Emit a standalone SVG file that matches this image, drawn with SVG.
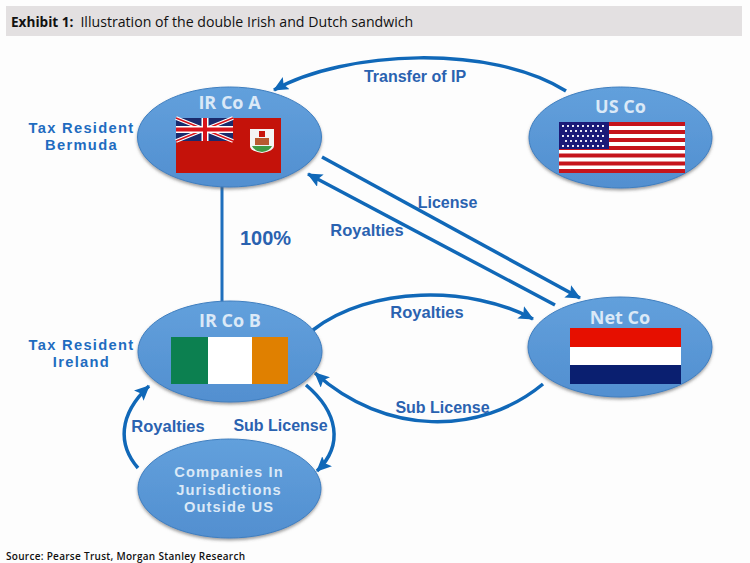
<svg xmlns="http://www.w3.org/2000/svg" width="750" height="563" viewBox="0 0 750 563">
<style>
.n{fill:url(#g);stroke:#3f7fc0;stroke-width:1}
.t{font-family:"Open Sans","Liberation Sans",sans-serif;font-weight:700;font-size:18px;fill:#dbe9f7;text-anchor:middle}
.t2{font-family:"Liberation Sans",sans-serif;font-size:14.700px;letter-spacing:1.100px}
.l{font-family:"Liberation Sans",sans-serif;font-weight:700;font-size:16px;fill:#2a62b0;text-anchor:middle}
.l2{font-size:14.700px;letter-spacing:1.300px;fill:#1f6cc0}
.c{fill:none;stroke:#1068b8;stroke-width:3.500}
.c2{fill:none;stroke:#1f6fbd;stroke-width:3}
</style>
<defs>
<linearGradient id="g" x1="0" y1="0" x2="0" y2="1"><stop offset="0" stop-color="#62a0dc"/><stop offset="1" stop-color="#528fd0"/></linearGradient>
<marker id="a" markerUnits="userSpaceOnUse" markerWidth="16" markerHeight="14" refX="14" refY="7" orient="auto"><path d="M0 0L15 7L0 14L3 7Z" fill="#1068b8"/></marker>
<filter id="s" x="-10%" y="-10%" width="120%" height="125%"><feDropShadow dx="0" dy="2" stdDeviation="1.500" flood-color="#555" flood-opacity=".55"/></filter>
</defs>
<rect width="750" height="563" fill="#fdfdfd"/>
<rect x="6" y="6" width="736" height="30" fill="#e3e0e1"/>
<text x="11" y="27" font-family="Open Sans,Liberation Sans,sans-serif" font-size="14.150" fill="#111"><tspan font-weight="700" font-size="13.600">Exhibit 1:</tspan><tspan dx="7">Illustration of the double Irish and Dutch sandwich</tspan></text>
<g id="connectors">
<path class="c" d="M566 91C492 44 345 50 274 90" marker-end="url(#a)"/>
<path class="c2" d="M222 186V302"/>
<path class="c" d="M322 157L580 298" marker-end="url(#a)"/>
<path class="c" d="M555 305L308 174" marker-end="url(#a)"/>
<path class="c" d="M313 330C370 286 470 285 533 319" marker-end="url(#a)"/>
<path class="c" d="M543 384C480 436 385 436 315 373" marker-end="url(#a)"/>
<path class="c" d="M138 468C118 445 118 415 149 386" marker-end="url(#a)"/>
<path class="c" d="M306 385C338 412 344 445 317 471" marker-end="url(#a)"/>
</g>
<g id="ir-co-a"><ellipse class="n" cx="229.500" cy="137" rx="92" ry="50" filter="url(#s)"/><text class="t" x="229.500" y="109">IR Co A</text>
<rect x="176" y="118" width="105" height="55" fill="#c4120a"/>
<rect x="176" y="118" width="57" height="23" fill="#1a2a6c"/>
<path d="M176 118L233 141M233 118L176 141" stroke="#fff" stroke-width="4"/><path d="M176 118L233 141M233 118L176 141" stroke="#d8121a" stroke-width="1.500"/>
<path d="M205 118V141M176 129.500H233" stroke="#fff" stroke-width="7"/><path d="M205 118V141M176 129.500H233" stroke="#d8121a" stroke-width="4"/>
<path d="M250 129H274V146Q274 151 262 153Q250 151 250 146Z" fill="#f4f4f4"/><path d="M252 146H272Q270 151 262 152Q254 151 252 146Z" fill="#3f9a44"/><rect x="255" y="138" width="14" height="7" fill="#b85a30"/><rect x="259" y="131" width="6" height="6" fill="#c8140c"/>
</g>
<g id="us-co"><ellipse class="n" cx="620.500" cy="137.500" rx="91.500" ry="50.500" filter="url(#s)"/><text class="t" x="620.500" y="113">US Co</text>
<rect x="559" y="122" width="126" height="51" fill="#fff"/>
<path d="M559 124H685M559 132H685M559 140H685M559 148H685M559 155.500H685M559 163.500H685M559 171H685" stroke="#c5141c" stroke-width="3.900"/>
<rect x="559" y="122" width="50" height="27" fill="#1a1a78"/>
<path d="M562 126H607M565 131H605M562 136H607M565 141H605M562 146H607" stroke="#e8e8f4" stroke-width="2" stroke-dasharray="2 3"/>
</g>
<g id="ir-co-b"><ellipse class="n" cx="230" cy="351.500" rx="92" ry="50.500" filter="url(#s)"/><text class="t" x="230" y="327">IR Co B</text>
<rect x="171" y="337" width="38" height="47" fill="#0c8050"/><rect x="208" y="337" width="44" height="47" fill="#fff"/><rect x="252" y="337" width="36" height="47" fill="#e08000"/>
</g>
<g id="net-co"><ellipse class="n" cx="620" cy="347" rx="92" ry="50" filter="url(#s)"/><text class="t" x="620" y="324">Net Co</text>
<rect x="570" y="328" width="111" height="19" fill="#e60f00"/><rect x="570" y="347" width="111" height="18" fill="#fff"/><rect x="570" y="365" width="111" height="19" fill="#0a1f70"/>
</g>
<g id="companies"><ellipse class="n" cx="229.500" cy="488.500" rx="91.500" ry="49.500" filter="url(#s)"/><text class="t t2"><tspan x="229" y="477">Companies In</tspan><tspan x="229" y="495">Jurisdictions</tspan><tspan x="229" y="512">Outside US</tspan></text></g>
<g id="labels">
<text class="l" x="415" y="82">Transfer of IP</text>
<text class="l" x="447.500" y="208">License</text>
<text class="l" x="367" y="236" style="font-size:16.500px">Royalties</text>
<text class="l" x="265.500" y="245" style="font-size:20px">100%</text>
<text class="l" x="427" y="318" style="font-size:16.500px">Royalties</text>
<text class="l" x="442.500" y="413">Sub License</text>
<text class="l" x="168" y="432" style="font-size:16.500px">Royalties</text>
<text class="l" x="280.500" y="431">Sub License</text>
<text class="l l2"><tspan x="81.500" y="133">Tax Resident</tspan><tspan x="81.500" y="150">Bermuda</tspan></text>
<text class="l l2"><tspan x="81.500" y="350">Tax Resident</tspan><tspan x="81.500" y="367">Ireland</tspan></text>
</g>
<text x="6" y="560" font-family="Open Sans,Liberation Sans,sans-serif" font-size="10" font-weight="600" letter-spacing=".29" fill="#111">Source: Pearse Trust, Morgan Stanley Research</text>
</svg>
